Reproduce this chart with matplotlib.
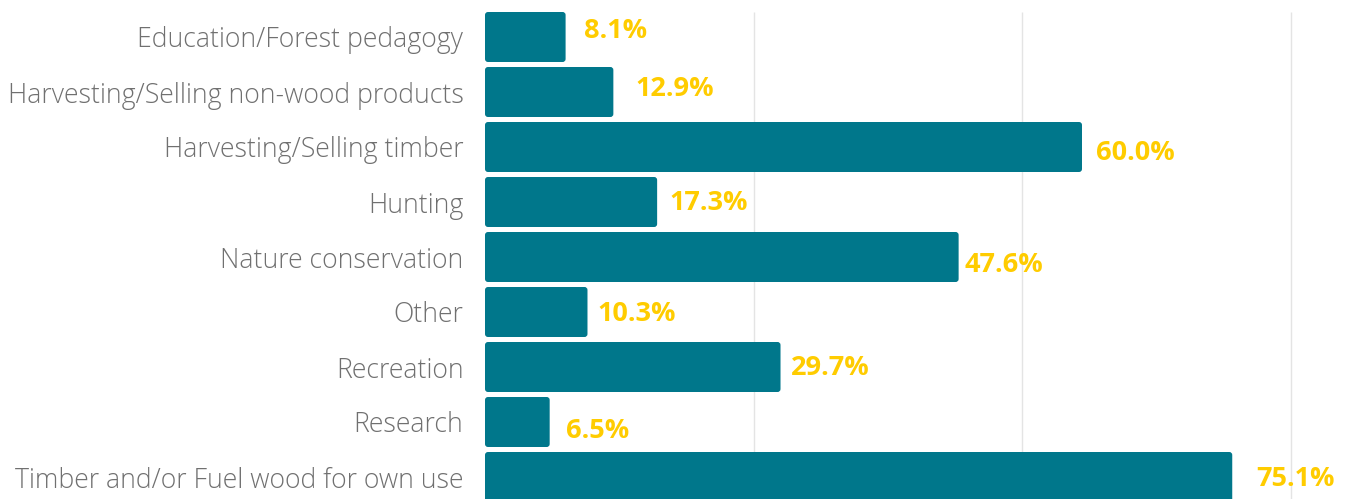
import matplotlib
matplotlib.use("Agg")
import matplotlib.pyplot as plt
from matplotlib.patches import FancyBboxPatch

categories = [
    "Education/Forest pedagogy",
    "Harvesting/Selling non-wood products",
    "Harvesting/Selling timber",
    "Hunting",
    "Nature conservation",
    "Other",
    "Recreation",
    "Research",
    "Timber and/or Fuel wood for own use",
]
values = [8.1, 12.9, 60.0, 17.3, 47.6, 10.3, 29.7, 6.5, 75.1]
grid_ticks = [27, 54, 81]

# label nudges in pixels (dx right, dy up) – style only
label_dx = [18, 22, 14, 12, 6, 10, 10, 16, 24]
label_dy = [6.5, 3.5, -5.5, -0.5, -7.5, -2, -1, -8.5, -2.5]

BAR_COLOR = "#00778b"
VAL_COLOR = "#ffcc00"
TXT_COLOR = "#707070"

W, H, DPI = 1345, 499, 100
fig = plt.figure(figsize=(W / DPI, H / DPI), dpi=DPI)
ax_left = 485 / W
ax = fig.add_axes([ax_left, 0, 1 - ax_left, 1])

px_per_unit_x = 9.95
pitch = 55.0
xmax = (W - 485) / px_per_unit_x
ax.set_xlim(0, xmax)
y_top = -37 / pitch
y_bot = (H - 37) / pitch
ax.set_ylim(y_bot, y_top)

ypos = list(range(len(categories)))
bar_h = 50 / pitch
bars = ax.barh(ypos, values, height=bar_h, color=BAR_COLOR, zorder=2)

# rounded corners
mut_aspect = (1 / pitch) / (1 / px_per_unit_x)
for b in bars:
    b.set_visible(False)
    p = FancyBboxPatch((b.get_x(), b.get_y()), b.get_width(), b.get_height(),
                       boxstyle="round,pad=0,rounding_size=0.3",
                       mutation_aspect=mut_aspect,
                       facecolor=BAR_COLOR, edgecolor="none", zorder=2)
    ax.add_patch(p)

# gridlines
ax.vlines(grid_ticks, -bar_h / 2, y_bot, color="#e4e4e4", linewidth=1, zorder=1)

for spine in ax.spines.values():
    spine.set_visible(False)
ax.set_xticks([])
ax.set_yticks(ypos)
ax.set_yticklabels(categories, fontsize=19.2, color=TXT_COLOR,
                   fontfamily="Open Sans", fontweight="light")
ax.tick_params(axis="y", length=0, pad=15.5)

for i, v in enumerate(values):
    ax.annotate(f"{v:.1f}%", xy=(v, i), xytext=(label_dx[i], label_dy[i]),
                textcoords="offset pixels", ha="left", va="center",
                fontsize=19.5, fontweight="bold", fontfamily="Open Sans",
                color=VAL_COLOR, zorder=3, annotation_clip=False)

fig.savefig("out.png", dpi=DPI)
